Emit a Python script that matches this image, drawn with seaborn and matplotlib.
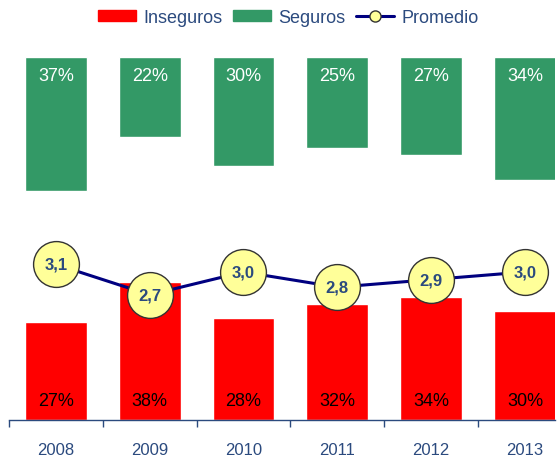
import numpy as np
import pandas as pd
import seaborn as sns
import matplotlib.pyplot as plt
from matplotlib.patches import Patch
from matplotlib.lines import Line2D

# data
years = ['2008', '2009', '2010', '2011', '2012', '2013']
inseguros = [27, 38, 28, 32, 34, 30]
seguros = [37, 22, 30, 25, 27, 34]
promedio = [3.1, 2.7, 3.0, 2.8, 2.9, 3.0]

df = pd.DataFrame({'Year': years, 'Inseguros': inseguros,
                   'Seguros': seguros, 'Promedio': promedio})

RED = '#FF0000'
GREEN = '#339966'
NAVY = '#000080'
TXT = '#2B4A7E'

sns.set_theme(style='white')
plt.rcParams['font.family'] = ['Liberation Sans', 'DejaVu Sans']

fig = plt.figure(figsize=(5.6, 4.6), dpi=100, facecolor='w')
ax = fig.add_axes([0.016, 0.085, 0.975, 0.789])

# red bars standing on the axis
sns.barplot(data=df, x='Year', y='Inseguros', color=RED, saturation=1,
            width=0.66, ax=ax)
# green bars hanging from the top (100%)
sns.barplot(data=df, x='Year', y='Seguros', color=GREEN, saturation=1,
            width=0.66, bottom=100 - df['Seguros'].values, ax=ax)

ax.set_ylim(0, 100)
ax.set_xlim(-0.5, 5.32)

red_bars = ax.containers[0]
green_bars = ax.containers[1]
for p, v in zip(red_bars.patches, inseguros):
    ax.annotate(f'{v}%', (p.get_x() + p.get_width() / 2, 0), xytext=(0, 14),
                textcoords='offset points', ha='center', va='center',
                fontsize=13, color='black')
for p, v in zip(green_bars.patches, seguros):
    ax.annotate(f'{v}%', (p.get_x() + p.get_width() / 2, 100), xytext=(0, -13),
                textcoords='offset points', ha='center', va='center',
                fontsize=13, color='white')

# average line on its own scale
ax2 = ax.twinx()
sns.lineplot(data=df, x='Year', y='Promedio', color=NAVY, linewidth=2.2,
             marker='o', markersize=33, markerfacecolor='#FFFF99',
             markeredgecolor='#333333', markeredgewidth=1, ax=ax2)
ax2.set_ylim(1.053, 5.83)
for i, v in enumerate(promedio):
    ax2.text(i, v, f'{v:.1f}'.replace('.', ','), ha='center', va='center',
             fontsize=12, fontweight='bold', color=TXT)
ax2.set_yticks([])
ax2.set_ylabel('')

for a in (ax, ax2):
    for s in ['top', 'right', 'left', 'bottom']:
        a.spines[s].set_visible(False)
ax.spines['bottom'].set_visible(True)
ax.spines['bottom'].set_color(TXT)
ax.spines['bottom'].set_linewidth(1)

ax.set_yticks([])
ax.set_xlabel('')
ax.set_ylabel('')
ax.set_xticks(range(len(years)))
ax.set_xticklabels(years)
ax.set_xticks(np.arange(-0.5, 5.0, 1.0), minor=True)
ax.tick_params(axis='x', which='major', length=0, pad=16, labelsize=12,
               labelcolor=TXT)
ax.tick_params(axis='x', which='minor', bottom=True, length=5, width=1,
               color=TXT, direction='out')

handles = [Patch(color=RED), Patch(color=GREEN),
           Line2D([], [], color=NAVY, linewidth=2.2, marker='o', markersize=8,
                  markerfacecolor='#FFFF99', markeredgecolor='#333333')]
leg = fig.legend(handles, ['Inseguros', 'Seguros', 'Promedio'], ncol=3,
                 loc='center', bbox_to_anchor=(0.515, 0.96), frameon=False,
                 fontsize=13, handlelength=2.1, handleheight=0.5,
                 columnspacing=0.6, handletextpad=0.4)
for t in leg.get_texts():
    t.set_color(TXT)

fig.savefig('out.png', dpi=100, facecolor='w')
